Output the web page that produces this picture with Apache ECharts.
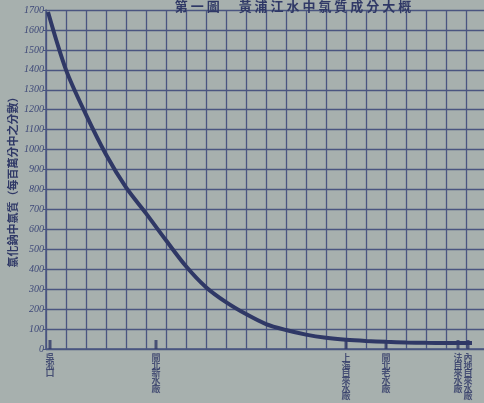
<!DOCTYPE html>
<html><head><meta charset="utf-8">
<script src="https://cdn.jsdelivr.net/npm/echarts@6/dist/echarts.min.js"></script>
<style>html,body{margin:0;padding:0;background:#a7b0ae;}#c{width:484px;height:403px;}</style>
</head><body><div id="c"></div>
<script>
const titleText = '第一圖　黃浦江水中氯質成分大概';
const yAxisName = '氯化鈉中氯質（每百萬分中之分數）';
const yTicks = [0,100,200,300,400,500,600,700,800,900,1000,1100,1200,1300,1400,1500,1600,1700];
// distance along river (grid cells) and chlorine (parts per million)
const curveX = [0.1, 1, 2, 3, 4, 5, 6, 7, 8, 9, 10, 11, 12, 13, 14, 15, 16, 17, 18, 19, 20, 21.3];
const curveY = [1690, 1400, 1175, 975, 810, 680, 545, 415, 310, 235, 175, 125, 95, 72, 56, 46, 40, 36, 33, 31, 30, 30];
const stationNames = ['吳淞口', '閘北新水廠', '上海自來水廠', '閘北老水廠', '法自來水廠', '內地自來水廠'];
const stationX = [0.2, 5.5, 15.0, 17.0, 20.6, 21.1];

const ink = '#2f3866';
const gridCol = '#4a5580';
const chart = echarts.init(document.getElementById('c'), null, {renderer:'canvas'});
chart.setOption({
  backgroundColor: '#a7b0ae',
  animation: false,
  title: {
    text: titleText.split('').join(' '),
    left: 288, top: -5, textAlign: 'center',
    textStyle: {fontFamily: 'Noto Sans CJK TC', fontSize: 13, fontWeight: 'bold', color: ink}
  },
  grid: {left: 46, right: -2, top: 10, bottom: 54, containLabel: false, outerBoundsMode: 'none'},
  xAxis: {
    type: 'value', min: 0, max: 22, interval: 1,
    axisLine: {show: true, lineStyle: {color: gridCol, width: 1.5}},
    axisTick: {show: false}, axisLabel: {show: false},
    splitLine: {show: true, lineStyle: {color: gridCol, width: 1.3}}
  },
  yAxis: {
    type: 'value', min: 0, max: 1700, interval: 100,
    name: yAxisName, nameLocation: 'middle', nameGap: 28, nameMoveOverlap: false,
    nameTextStyle: {fontFamily: 'Noto Sans CJK TC', fontSize: 11, fontWeight: 'bold', color: ink},
    axisLine: {show: true, lineStyle: {color: gridCol, width: 1.5}},
    axisTick: {show: true, length: 3, lineStyle: {color: gridCol}},
    axisLabel: {
      margin: 2, fontSize: 10, fontStyle: 'italic', fontFamily: 'Liberation Serif', color: '#3d4878',
      formatter: v => yTicks.indexOf(v) >= 0 ? String(v) : ''
    },
    splitLine: {show: true, lineStyle: {color: gridCol, width: 1.3}}
  },
  series: [
    {
      type: 'line', smooth: 0.3, symbol: 'none',
      data: curveX.map((x, i) => [x, curveY[i]]),
      lineStyle: {color: ink, width: 4}
    },
    {
      type: 'scatter', symbol: 'rect', symbolSize: [3, 9], symbolOffset: [0, -4.5],
      itemStyle: {color: ink},
      data: stationX.map((x, i) => ({value: [x, 0], name: stationNames[i]})),
      label: {
        show: true, position: 'bottom', distance: 5,
        formatter: p => p.name.split('').join('\n'),
        fontFamily: 'Noto Sans CJK TC', fontSize: 9, lineHeight: 7.6, fontWeight: 'bold', color: ink
      }
    }
  ]
});
</script></body></html>
